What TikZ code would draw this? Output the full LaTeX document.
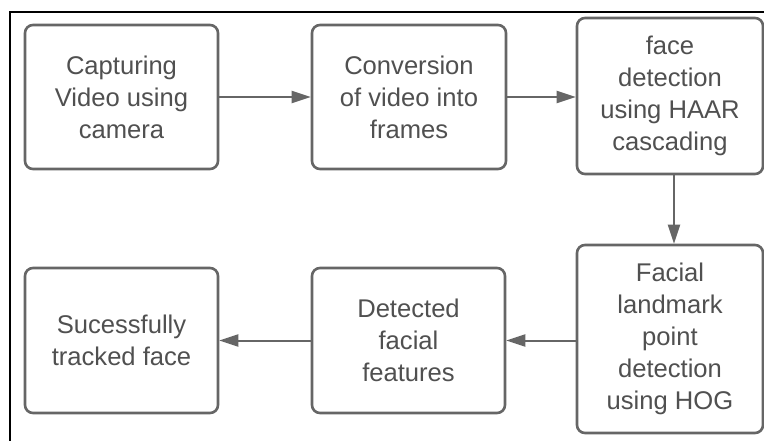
\documentclass[tikz,border=0pt]{standalone}
\usepackage{fontspec}
\setmainfont{Liberation Sans}
\usetikzlibrary{arrows.meta}
\definecolor{boxgray}{HTML}{666666}
\definecolor{txtgray}{HTML}{505050}
\begin{document}
\begin{tikzpicture}[x=1pt,y=-1pt,
  stepbox/.style={draw=boxgray,line width=2.6pt,rounded corners=8pt,fill=white,
    text=txtgray,align=center,inner sep=0pt,
    font=\fontsize{25.6}{32}\selectfont},
  flow/.style={draw=boxgray,line width=2pt,-{Triangle[length=19pt,width=12pt]}}]
\useasboundingbox (0,0) rectangle (764,440);
\fill[white] (0,0) rectangle (764,440);
\draw[black,line width=2pt] (10,441) -- (10,12) -- (765,12);
\node[stepbox,minimum width=193pt,minimum height=144pt] (b1) at (121.5,97) {Capturing\\Video using\\camera};
\node[stepbox,minimum width=194pt,minimum height=144pt] (b2) at (409,97) {Conversion\\of video into\\frames};
\node[stepbox,minimum width=186pt,minimum height=156pt] (b3) at (670,96) {face\\detection\\using HAAR\\cascading};
\node[stepbox,minimum width=186pt,minimum height=188pt] (b4) at (670,339) {Facial\\landmark\\point\\detection\\using HOG};
\node[stepbox,minimum width=193pt,minimum height=145pt] (b5) at (408.5,340.5) {Detected\\facial\\features};
\node[stepbox,minimum width=193pt,minimum height=145pt] (b6) at (121.5,340.5) {Sucessfully\\tracked face};
\draw[flow] (b1.east) -- (b2.west);
\draw[flow] (b2.east) -- (b2.east -| b3.west);
\draw[flow] ([xshift=4pt]b3.south) -- ([xshift=4pt]b4.north);
\draw[flow] (b4.west |- b5.east) -- (b5.east);
\draw[flow] (b5.west) -- (b6.east);
\end{tikzpicture}
\end{document}
